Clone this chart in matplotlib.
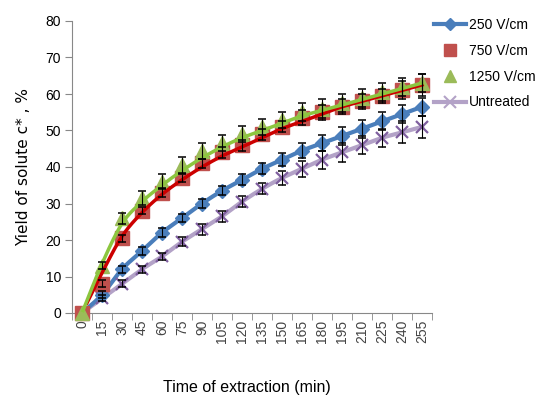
import numpy as np
import matplotlib
matplotlib.use("Agg")
import matplotlib.pyplot as plt
from matplotlib.lines import Line2D

times = [0, 15, 30, 45, 60, 75, 90, 105, 120, 135, 150, 165, 180, 195, 210, 225, 240, 255]
tick_labels = [str(t) for t in times]

v250 = [0, 5, 12, 17, 22, 26, 30, 33.5, 36.5, 39.5, 42, 44.5, 46.5, 48.5, 50.5, 52.5, 54.5, 56.5]
v250_err = [0, 1, 1, 1, 1.2, 1.2, 1.3, 1.3, 1.5, 1.5, 1.8, 2, 2.2, 2.5, 2.5, 2.5, 2.5, 2.5]
v750 = [0, 8, 20.5, 28, 33, 37, 41, 44, 46, 49, 51, 53.5, 55, 56.5, 58, 59.5, 61, 62.5]
v750_err = [0, 1, 1, 1, 1.2, 1.2, 1.2, 1.5, 1.5, 1.5, 1.5, 2, 2, 2, 2, 2, 2.5, 3]
v750_fit = [0, 11, 21, 27.5, 32.5, 36.5, 40, 43, 45.5, 48, 50.5, 52.5, 54.5, 56.5, 58, 59.5, 61, 62.5]
v1250 = [0, 13, 26, 31.5, 36, 40.5, 44.5, 46.5, 49, 51, 53, 55, 56, 57.5, 59, 60.5, 62, 63]
v1250_err = [0, 1, 1.5, 2, 2, 2.2, 2.2, 2.2, 2.2, 2.2, 2.2, 2.5, 2.5, 2.5, 2.5, 2.5, 2.5, 2.5]
v1250_fit = [0, 13.5, 24.5, 30.5, 35, 39, 42.5, 45.5, 48, 50, 52, 54, 55.5, 57, 58.5, 60, 61.5, 63]
untreated = [0, 4, 8, 12, 15.5, 19.5, 23, 26.5, 30.5, 34, 37, 39.5, 42, 44, 46, 48, 49.5, 51]
untreated_err = [0, 0.8, 1, 1, 1, 1.2, 1.5, 1.5, 1.5, 1.5, 2, 2.2, 2.5, 2.5, 2.5, 2.5, 3, 3]

legend_labels = ["250 V/cm", "750 V/cm", "1250 V/cm", "Untreated"]

def smooth(xs, ys, n=20):
    xs = np.asarray(xs, float); ys = np.asarray(ys, float)
    P = np.column_stack([xs, ys])
    P = np.vstack([2 * P[0] - P[1], P, 2 * P[-1] - P[-2]])
    out = []
    for i in range(1, len(P) - 2):
        p0, p1, p2, p3 = P[i - 1], P[i], P[i + 1], P[i + 2]
        t = np.linspace(0, 1, n, endpoint=False)[:, None]
        pt = 0.5 * ((2 * p1) + (-p0 + p2) * t + (2 * p0 - 5 * p1 + 4 * p2 - p3) * t ** 2
                    + (-p0 + 3 * p1 - 3 * p2 + p3) * t ** 3)
        out.append(pt)
    out.append(P[-2][None, :])
    out = np.vstack(out)
    return out[:, 0], out[:, 1]

font = 'Liberation Sans'

fig = plt.figure(figsize=(5.39, 4.0), dpi=100)
ax = fig.add_axes([0.1336, 0.2175, 0.668, 0.73])

x = np.arange(len(times))
blue = '#4a7ebb'
red_m = '#c0504d'
red_l = '#cc0000'
green = '#8cc63f'
purple_l = '#b3a2c7'
purple_m = '#7f5f9f'

# error bars
for vals, errs in [(v250, v250_err), (v750, v750_err), (v1250, v1250_err), (untreated, untreated_err)]:
    ax.errorbar(x[1:], vals[1:], yerr=errs[1:], fmt='none', ecolor='black', elinewidth=0.8,
                capsize=2.8, capthick=1.1, zorder=5)

# untreated
sx, sy = smooth(x, untreated)
ax.plot(sx, sy, color=purple_l, lw=3, zorder=2)
ax.plot(x, untreated, ls='none', marker='x', ms=8, mew=1.6, color=purple_m, zorder=3)

# 250
sx, sy = smooth(x, v250)
ax.plot(sx, sy, color=blue, lw=3, zorder=2)
ax.plot(x, v250, ls='none', marker='D', ms=7.5, color=blue, zorder=3)

# 750
ax.plot(x, v750, ls='none', marker='s', ms=9.5, color=red_m, zorder=3, clip_on=False)
sx, sy = smooth(x, v750_fit)
m = sx >= 0.25
ax.plot(sx[m], sy[m], color=red_l, lw=2.5, zorder=4)

# 1250
ax.plot(x, v1250, ls='none', marker='^', ms=10, color='#9bbb59', zorder=3, clip_on=False)
sx, sy = smooth(x, v1250_fit)
m = sx >= 0.05
ax.plot(sx[m], sy[m], color=green, lw=2.5, zorder=4)

ax.set_xlim(-0.5, len(times) - 0.5)
ax.set_ylim(0, 80)
ax.set_yticks(range(0, 81, 10))
ax.set_xticks(x)
ax.set_xticklabels(tick_labels, rotation=90, fontsize=10, family=font, color='#444444')
ax.set_xticks(np.arange(-0.5, len(times), 1), minor=True)
ax.tick_params(axis='x', which='major', length=0, pad=5)
ax.tick_params(axis='x', which='minor', length=5, color='#888888')
ax.tick_params(axis='y', length=5, color='#888888', labelsize=10, pad=3)
for lab in ax.get_yticklabels():
    lab.set_family(font)
for s in ['top', 'right']:
    ax.spines[s].set_visible(False)
for s in ['left', 'bottom']:
    ax.spines[s].set_color('#888888')

ax.set_ylabel('Yield of solute c* , %', fontsize=11, family='DejaVu Sans', labelpad=10)
fig.text(0.458, 0.02, 'Time of extraction (min)', ha='center', fontsize=11.5, family=font)

handles = [
    Line2D([], [], color=blue, lw=3, marker='D', ms=6),
    Line2D([], [], color=red_m, ls='none', marker='s', ms=8),
    Line2D([], [], color='#9bbb59', ls='none', marker='^', ms=8),
    Line2D([], [], color=purple_l, lw=3, marker='x', ms=9, mew=1.5, mec=purple_l),
]
leg = fig.legend(handles, legend_labels, loc='upper left', bbox_to_anchor=(0.806, 0.955),
                 frameon=False, prop={'family': font, 'size': 10}, handlelength=2.3,
                 handletextpad=0.2, labelspacing=0.85, borderaxespad=0, borderpad=0)

fig.savefig('out.png', dpi=100)
